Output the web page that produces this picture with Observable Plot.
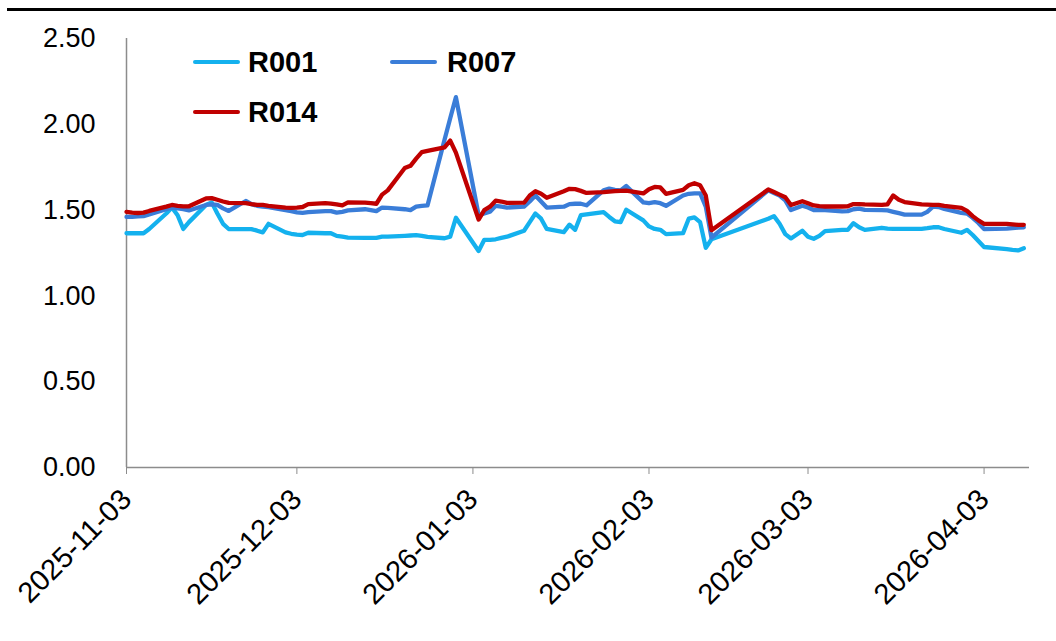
<!DOCTYPE html>
<html><head><meta charset="utf-8">
<script src="https://cdn.jsdelivr.net/npm/d3@7"></script>
<script src="https://cdn.jsdelivr.net/npm/@observablehq/plot@0.6"></script>
<style>
body{margin:0;background:#fff;font-family:Arial,"Liberation Sans",sans-serif;}
#wrap{position:relative;width:1056px;height:641px;overflow:hidden;}
#topline{position:absolute;left:7px;right:0;top:8px;height:3px;background:#000;}
.sw{position:absolute;height:4px;width:47px;border-radius:2px;}
.lt{position:absolute;font-weight:bold;font-size:29px;line-height:30px;color:#000;}
</style></head><body><div id="wrap"><div id="topline"></div></div>
<script>
const dates = [
"2025-11-03","2025-11-04","2025-11-05","2025-11-06","2025-11-07","2025-11-10","2025-11-11","2025-11-12","2025-11-13","2025-11-14",
"2025-11-17","2025-11-18","2025-11-19","2025-11-20","2025-11-21","2025-11-24","2025-11-25","2025-11-26","2025-11-27","2025-11-28",
"2025-12-01","2025-12-02","2025-12-03","2025-12-04","2025-12-05","2025-12-08","2025-12-09","2025-12-10","2025-12-11","2025-12-12",
"2025-12-15","2025-12-16","2025-12-17","2025-12-18","2025-12-19","2025-12-22","2025-12-23","2025-12-24","2025-12-25","2025-12-26",
"2025-12-29","2025-12-30","2025-12-31","2026-01-04","2026-01-05","2026-01-06","2026-01-07","2026-01-08","2026-01-09",
"2026-01-12","2026-01-13","2026-01-14","2026-01-15","2026-01-16","2026-01-19","2026-01-20","2026-01-21","2026-01-22","2026-01-23",
"2026-01-26","2026-01-27","2026-01-28","2026-01-29","2026-01-30","2026-02-02","2026-02-03","2026-02-04","2026-02-05","2026-02-06",
"2026-02-09","2026-02-10","2026-02-11","2026-02-12","2026-02-13","2026-02-14","2026-02-24","2026-02-25","2026-02-26","2026-02-27","2026-02-28",
"2026-03-02","2026-03-03","2026-03-04","2026-03-05","2026-03-06","2026-03-09","2026-03-10","2026-03-11","2026-03-12","2026-03-13",
"2026-03-16","2026-03-17","2026-03-18","2026-03-19","2026-03-20","2026-03-23","2026-03-24","2026-03-25","2026-03-26","2026-03-27",
"2026-03-30","2026-03-31","2026-04-01","2026-04-02","2026-04-03","2026-04-07","2026-04-08","2026-04-09","2026-04-10"
];
const r001 = [
1.365,1.365,1.365,1.365,1.39,1.48,1.515,1.47,1.39,1.43,
1.53,1.545,1.48,1.42,1.39,1.389,1.389,1.38,1.37,1.42,
1.37,1.362,1.357,1.355,1.368,1.365,1.365,1.35,1.345,1.34,
1.338,1.338,1.338,1.345,1.346,1.35,1.352,1.354,1.35,1.344,
1.336,1.345,1.455,1.262,1.327,1.327,1.33,1.338,1.345,
1.38,1.43,1.48,1.45,1.39,1.372,1.415,1.385,1.47,1.475,
1.488,1.46,1.435,1.43,1.502,1.44,1.405,1.39,1.385,1.36,
1.366,1.45,1.458,1.43,1.28,1.33,1.45,1.465,1.42,1.36,1.335,
1.38,1.345,1.333,1.35,1.378,1.385,1.385,1.424,1.40,1.385,
1.397,1.392,1.391,1.391,1.391,1.391,1.395,1.40,1.40,1.39,
1.368,1.385,1.355,1.32,1.285,1.272,1.268,1.265,1.278
];
const r007 = [
1.46,1.46,1.463,1.465,1.475,1.505,1.515,1.51,1.505,1.498,
1.53,1.533,1.53,1.51,1.495,1.553,1.535,1.525,1.52,1.518,
1.50,1.494,1.487,1.484,1.488,1.494,1.494,1.485,1.49,1.498,
1.505,1.50,1.494,1.515,1.513,1.505,1.50,1.52,1.525,1.527,
1.91,2.035,2.158,1.47,1.48,1.49,1.525,1.52,1.515,
1.52,1.55,1.585,1.55,1.515,1.52,1.535,1.537,1.537,1.528,
1.615,1.625,1.618,1.615,1.64,1.545,1.54,1.546,1.54,1.525,
1.585,1.595,1.598,1.598,1.52,1.34,1.615,1.60,1.585,1.556,1.50,
1.525,1.515,1.50,1.50,1.50,1.492,1.494,1.505,1.508,1.501,
1.50,1.498,1.49,1.482,1.474,1.474,1.49,1.52,1.518,1.507,
1.484,1.48,1.455,1.425,1.39,1.392,1.395,1.398,1.40
];
const r014 = [
1.49,1.485,1.483,1.485,1.495,1.52,1.53,1.525,1.522,1.522,
1.568,1.57,1.56,1.55,1.542,1.541,1.535,1.53,1.53,1.525,
1.515,1.513,1.515,1.518,1.535,1.541,1.538,1.533,1.527,1.545,
1.544,1.541,1.537,1.59,1.615,1.745,1.758,1.80,1.838,1.845,
1.866,1.905,1.835,1.445,1.50,1.52,1.555,1.55,1.542,
1.543,1.585,1.61,1.595,1.572,1.61,1.624,1.622,1.612,1.60,
1.605,1.608,1.61,1.612,1.613,1.597,1.622,1.635,1.632,1.595,
1.618,1.645,1.657,1.645,1.585,1.383,1.62,1.605,1.59,1.575,1.53,
1.552,1.54,1.527,1.523,1.521,1.521,1.522,1.535,1.535,1.533,
1.530,1.534,1.585,1.56,1.547,1.533,1.532,1.531,1.530,1.525,
1.513,1.495,1.465,1.44,1.42,1.42,1.417,1.414,1.414
];
const seriesNames = ["R001","R007","R014"];
const seriesColors = ["#14B1EE","#3A7DD8","#C00000"];
const yTicks = [0,0.5,1,1.5,2,2.5];
const xTicks = ["2025-11-03","2025-12-03","2026-01-03","2026-02-03","2026-03-03","2026-04-03"];
const xDomain = ["2025-11-03","2026-04-11"];

const parse = d3.utcParse("%Y-%m-%d");
const vals = [r001, r007, r014];
const rows = [];
seriesNames.forEach((s, i) => dates.forEach((d, j) => rows.push({series: s, date: parse(d), value: vals[i][j]})));

const chart = Plot.plot({
  width: 1056, height: 641,
  marginLeft: 126, marginRight: 27, marginTop: 38, marginBottom: 174,
  style: {fontFamily: "Arial, 'Liberation Sans', sans-serif", fontSize: "26px", color: "#000", background: "#fff"},
  x: {type: "utc", domain: xDomain.map(parse), label: null},
  y: {domain: [0, 2.5], label: null},
  color: {domain: seriesNames, range: seriesColors},
  marks: [
    Plot.ruleY([0], {stroke: "#8c8c8c", strokeWidth: 1.5}),
    Plot.ruleX([parse(xDomain[0])], {stroke: "#8c8c8c", strokeWidth: 1.5}),
    Plot.axisY({ticks: yTicks, tickFormat: d3.format(".2f"), tickSize: 0, tickPadding: 31, fontSize: 27, fill: "#000", label: null}),
    Plot.axisX({ticks: xTicks.map(parse), tickFormat: d3.utcFormat("%Y-%m-%d"), tickSize: 7, tickPadding: 20, tickRotate: -45, stroke: "#8c8c8c", fontSize: 29, fill: "#000", label: null}),
    Plot.line(rows, {x: "date", y: "value", z: "series", stroke: "series", strokeWidth: 4.3, strokeLinejoin: "round", strokeLinecap: "round"})
  ]
});
const wrap = document.getElementById("wrap");
chart.style.position = "absolute"; chart.style.left = "0"; chart.style.top = "0";
wrap.insertBefore(chart, wrap.firstChild);

const legendPos = [[193, 62, 248], [390, 62, 447], [193, 112, 248]];
seriesNames.forEach((s, i) => {
  const [lx, ly, tx] = legendPos[i];
  const sw = document.createElement("div");
  sw.className = "sw"; sw.style.left = lx + "px"; sw.style.top = (ly - 2) + "px"; sw.style.background = seriesColors[i];
  wrap.appendChild(sw);
  const t = document.createElement("div");
  t.className = "lt"; t.textContent = s; t.style.left = tx + "px"; t.style.top = (ly - 15) + "px";
  wrap.appendChild(t);
});
</script></body></html>
